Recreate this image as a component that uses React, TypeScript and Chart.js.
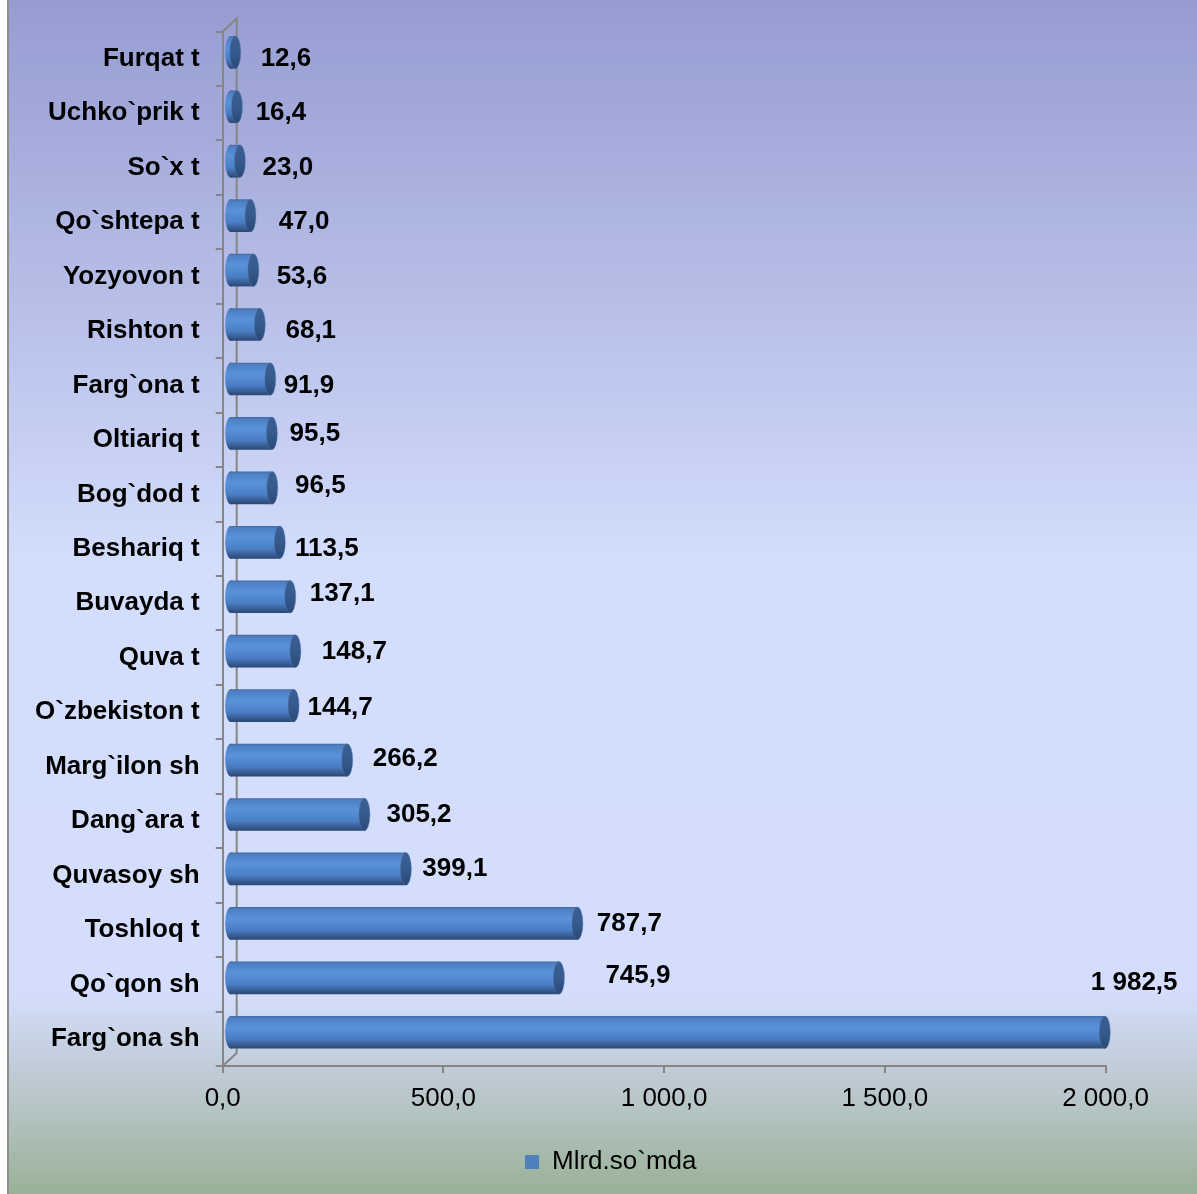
import React, { useEffect, useRef } from 'react';
import { Chart, registerables } from 'chart.js';

Chart.register(...registerables);

const categories = [
  'Furqat t', 'Uchko`prik t', 'So`x t', 'Qo`shtepa t', 'Yozyovon t', 'Rishton t',
  'Farg`ona t', 'Oltiariq t', 'Bog`dod t', 'Beshariq t', 'Buvayda t', 'Quva t',
  'O`zbekiston t', 'Marg`ilon sh', 'Dang`ara t', 'Quvasoy sh', 'Toshloq t', 'Qo`qon sh', 'Farg`ona sh',
];
const values = [
  12.6, 16.4, 23.0, 47.0, 53.6, 68.1, 91.9, 95.5, 96.5, 113.5, 137.1, 148.7,
  144.7, 266.2, 305.2, 399.1, 787.7, 745.9, 1982.5,
];
const xTickLabels = ['0,0', '500,0', '1 000,0', '1 500,0', '2 000,0'];
const seriesName = 'Mlrd.so`mda';

// manual data-label placement (pixels from bar end / band centre), as in the source
const labelDx = [57.7, 51, 55, 60.6, 55.6, 58, 45.7, 50, 55, 54, 59, 66, 53.5, 65, 61.6, 56, 59, 86, 36.4];
const labelDy = [0, 0, 0, 0, 0, 0, 0, -6, -9, 0, -9, -6, -4, -8, -6, -7, -6, -9, -56];

const FONT = "'Liberation Sans', Arial, Helvetica, sans-serif";
const AXIS_GRAY = '#868686';
const DEPTH_X = 14;
const DEPTH_Y = 13;
const BAR_PCT = 0.6;
const CAP_RX = 5.5;

const fmt = (v: number) => {
  const [i, d] = v.toFixed(1).split('.');
  return i.replace(/\B(?=(\d{3})+(?!\d))/g, ' ') + ',' + d;
};

function bodyGradient(ctx: CanvasRenderingContext2D, yc: number, h: number) {
  const g = ctx.createLinearGradient(0, yc - h / 2, 0, yc + h / 2);
  g.addColorStop(0, '#44699e');
  g.addColorStop(0.06, '#4d7fc2');
  g.addColorStop(0.35, '#5a92da');
  g.addColorStop(0.7, '#4a7ec4');
  g.addColorStop(0.9, '#35598e');
  g.addColorStop(1, '#2a4674');
  return g;
}

function capGradient(ctx: CanvasRenderingContext2D, yc: number, h: number) {
  const g = ctx.createLinearGradient(0, yc - h / 2, 0, yc + h / 2);
  g.addColorStop(0, '#3b5f94');
  g.addColorStop(0.5, '#355a8c');
  g.addColorStop(1, '#2b4876');
  return g;
}

const cylinderPlugin = {
  id: 'cylinder3d',
  beforeDraw(chart: any) {
    const { ctx, width, height } = chart;
    ctx.save();
    ctx.fillStyle = '#ffffff';
    ctx.fillRect(0, 0, width, height);
    const g = ctx.createLinearGradient(0, 0, 0, height);
    g.addColorStop(0, '#969cd1');
    g.addColorStop(0.47, '#d3ddfc');
    g.addColorStop(0.83, '#d4defc');
    g.addColorStop(0.92, '#b8c6ca');
    g.addColorStop(1, '#99b196');
    ctx.fillStyle = g;
    ctx.fillRect(8, 0, width - 8, height);
    ctx.fillStyle = '#8e8e8e';
    ctx.fillRect(7, 0, 2, height);
    ctx.restore();
  },
  afterLayout(chart: any) {
    const lg = chart.legend;
    if (lg) {
      lg.left += 54;
      lg.right += 54;
    }
  },
  beforeDatasetsDraw(chart: any) {
    const { ctx, chartArea } = chart;
    const { left, top, bottom } = chartArea;
    ctx.save();
    ctx.strokeStyle = AXIS_GRAY;
    ctx.lineWidth = 2;
    ctx.beginPath();
    ctx.moveTo(left, top);
    ctx.lineTo(left + DEPTH_X, top - DEPTH_Y);
    ctx.lineTo(left + DEPTH_X, bottom - DEPTH_Y);
    ctx.lineTo(left, bottom);
    ctx.stroke();
    ctx.restore();
    ctx.save();
    ctx.translate(DEPTH_X / 2, -DEPTH_Y / 2);
  },
  afterDatasetsDraw(chart: any) {
    const { ctx } = chart;
    const meta = chart.getDatasetMeta(0);
    meta.data.forEach((el: any) => {
      const h = el.height;
      const yc = el.y;
      // rounded back end
      ctx.beginPath();
      ctx.ellipse(el.base, yc, CAP_RX, h / 2, 0, Math.PI / 2, (3 * Math.PI) / 2);
      ctx.lineTo(el.base + 1.5, yc - h / 2);
      ctx.lineTo(el.base + 1.5, yc + h / 2);
      ctx.closePath();
      ctx.fillStyle = bodyGradient(ctx, yc, h);
      ctx.fill();
      // flat front cap
      ctx.beginPath();
      ctx.ellipse(el.x, yc, CAP_RX, h / 2, 0, 0, Math.PI * 2);
      ctx.fillStyle = capGradient(ctx, yc, h);
      ctx.fill();
      ctx.strokeStyle = 'rgba(80,120,180,0.5)';
      ctx.lineWidth = 0.8;
      ctx.stroke();
    });
    ctx.restore();

    const xs = chart.scales.x;
    const ys = chart.scales.y;
    ctx.save();
    ctx.font = `bold 26px ${FONT}`;
    ctx.fillStyle = '#000';
    ctx.textAlign = 'center';
    ctx.textBaseline = 'middle';
    values.forEach((v, i) => {
      const x = xs.getPixelForValue(v) + labelDx[i];
      const y = ys.getPixelForValue(i) + labelDy[i];
      ctx.fillText(fmt(v), x, y);
    });
    ctx.restore();
  },
};

export default function App() {
  const ref = useRef<HTMLCanvasElement | null>(null);

  useEffect(() => {
    if (!ref.current) return;
    const chart = new Chart(ref.current, {
      type: 'bar',
      data: {
        labels: categories,
        datasets: [
          {
            label: seriesName,
            data: values,
            barPercentage: BAR_PCT,
            categoryPercentage: 1,
            borderWidth: 0,
            clip: false as any,
            backgroundColor: (c: any) => {
              const ch = c.chart;
              const ys = ch.scales?.y;
              const area = ch.chartArea;
              if (!ys || !area || c.dataIndex == null) return '#4f81bd';
              const yc = ys.getPixelForValue(c.dataIndex);
              const h = ((area.bottom - area.top) / categories.length) * BAR_PCT;
              return bodyGradient(ch.ctx, yc, h);
            },
          },
        ],
      },
      options: {
        indexAxis: 'y',
        responsive: false,
        animation: false,
        devicePixelRatio: 1,
        layout: { padding: { left: 8, top: 27.3, right: 91.5, bottom: 9 } },
        scales: {
          x: {
            type: 'linear',
            min: 0,
            max: 2000,
            afterFit: (s: any) => { s.height = 73; },
            ticks: {
              stepSize: 500,
              padding: 10,
              color: '#000',
              font: { family: FONT, size: 26 },
              callback: (_v: any, i: number) => xTickLabels[i],
            },
            grid: { drawOnChartArea: false, drawTicks: true, tickLength: 7, color: AXIS_GRAY, lineWidth: 2 },
            border: { display: true, color: AXIS_GRAY, width: 2 },
          },
          y: {
            type: 'category',
            afterFit: (s: any) => { s.width = 214.7; },
            ticks: {
              autoSkip: false,
              padding: 16,
              color: '#000',
              font: { family: FONT, size: 26, weight: 'bold' },
            },
            grid: { offset: true, drawOnChartArea: false, drawTicks: true, tickLength: 7, color: AXIS_GRAY, lineWidth: 2 },
            border: { display: true, color: AXIS_GRAY, width: 2 },
          },
        },
        plugins: {
          legend: {
            position: 'bottom',
            labels: {
              boxWidth: 14,
              boxHeight: 14,
              padding: 10,
              color: '#000',
              font: { family: FONT, size: 26 },
              generateLabels: () => [
                {
                  text: seriesName,
                  fillStyle: '#4f81bd',
                  strokeStyle: '#4f81bd',
                  lineWidth: 0,
                  hidden: false,
                  datasetIndex: 0,
                } as any,
              ],
            },
          },
          tooltip: { enabled: false },
        },
      } as any,
      plugins: [cylinderPlugin],
    });
    return () => chart.destroy();
  }, []);

  return (
    <div style={{ position: 'absolute', left: 0, top: 0, width: 1197, height: 1194 }}>
      <canvas ref={ref} width={1197} height={1194} style={{ display: 'block', width: 1197, height: 1194 }} />
    </div>
  );
}
